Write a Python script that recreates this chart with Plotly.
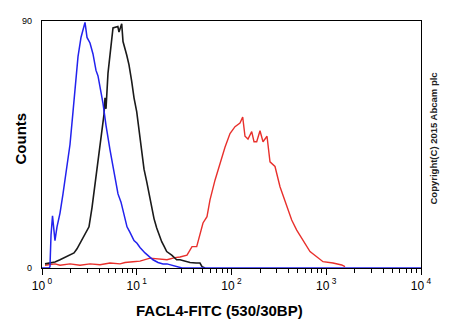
import plotly.graph_objects as go

# Blue histogram (isotype / unstained)
blue_x = [1.0, 1.185, 1.214, 1.245, 1.291, 1.339, 1.371, 1.440, 1.549, 1.666, 1.823, 1.975,
          2.125, 2.285, 2.399, 2.580, 2.709, 2.844, 2.986, 3.211, 3.453, 3.715, 3.900, 4.095,
          4.404, 4.737, 4.973, 5.221, 5.615, 6.039, 6.340, 6.822, 7.161, 7.890, 8.486, 9.355,
          10.06, 10.82, 12.22, 13.80, 14.85, 16.76, 18.93, 20.86, 23.55, 26.60, 30.03, 10000]
blue_y = [0, 0, 0.5, 12, 19, 14, 10, 15, 20, 27, 37, 45,
          57, 70, 77, 84, 87, 89.5, 84, 82, 78, 72, 70, 66,
          60, 52, 47, 43, 37, 31, 27, 24, 21, 15, 13, 10,
          9, 7.5, 5.5, 4, 3, 2, 1.5, 1.5, 1, 0.5, 0, 0]

# Black histogram
black_x = [1.076, 1.214, 1.371, 1.549, 1.749, 1.975, 2.177, 2.341, 2.518, 2.709, 2.913, 3.133,
           3.371, 3.626, 3.900, 4.095, 4.297, 4.512, 4.623, 4.737, 4.973, 5.221, 5.615, 6.317,
           6.497, 6.939, 7.161, 7.834, 8.283, 8.845, 9.355, 9.988, 10.56, 11.28, 11.93, 12.74,
           13.47, 14.38, 15.21, 16.24, 17.17, 18.34, 19.40, 20.71, 23.38, 26.40, 28.61, 32.30,
           36.48, 42.21, 46.51, 48.84, 52.53]
black_y = [1.5, 1.8, 2.2, 3, 3.8, 4.7, 5.5, 7, 9, 11, 13, 15,
           22, 31, 40, 44, 50, 56, 62, 58, 71, 78, 87.5, 88,
           86, 89, 82.5, 77.6, 74, 68, 62, 57, 50, 41, 36, 31.5,
           27, 22, 18, 14.6, 12, 9.6, 8, 6, 4.7, 3, 3, 2.5,
           2, 1.8, 1.8, 0.5, 0]

# Red histogram (FACL4-FITC stained)
red_x = [1.076, 1.371, 1.549, 1.975, 2.518, 3.211, 4.095, 5.221, 6.657, 7.516, 9.130, 10.82,
         13.80, 16.76, 20.86, 25.33, 28.61, 33.91, 38.30, 42.94, 46.51, 50.03, 55.12, 59.31,
         66.97, 75.60, 85.37, 96.43, 108.9, 122.9, 131.3, 138.8, 149.3, 163.4, 172.8, 184.5,
         199.9, 215.0, 237.0, 254.9, 287.8, 325.0, 382.4, 431.9, 487.7, 568.3, 673.9, 792.8,
         924.4, 1178, 1456, 1578]
red_y = [1, 1.5, 1, 1.5, 1, 1.5, 1.2, 1.8, 1.5, 2, 2.3, 2.5,
         3.6, 3.2, 3, 3.8, 4, 4.7, 7.8, 7.8, 12.6, 16.4, 18.7, 24.8,
         32, 38, 44, 49, 51.5, 52.8, 55, 48, 47, 49.7, 46, 46,
         50, 46, 48, 38.7, 37, 29.6, 22.3, 17.5, 13.8, 10, 6, 4.1,
         2.3, 1.8, 1.1, 0.5]

major_ticks = [1, 10, 100, 1000, 10000]
major_labels = ["10<sup> 0</sup>", "10<sup> 1</sup>", "10<sup> 2</sup>", "10<sup> 3</sup>", "10<sup> 4</sup>"]
minor_ticks = [m * d for d in [1, 10, 100, 1000] for m in range(2, 10)]
y_ticks = [0, 90]

FONT = "Arial, Liberation Sans, sans-serif"

fig = go.Figure()
fig.add_trace(go.Scatter(x=red_x, y=red_y, mode="lines", line=dict(color="#e8302c", width=1.4)))
fig.add_trace(go.Scatter(x=black_x, y=black_y, mode="lines", line=dict(color="#1a1a1a", width=1.6)))
fig.add_trace(go.Scatter(x=blue_x, y=blue_y, mode="lines", line=dict(color="#2222ee", width=1.5)))

fig.update_layout(
    width=450, height=330,
    margin=dict(l=42, r=29, t=21, b=62),
    paper_bgcolor="white", plot_bgcolor="white",
    showlegend=False,
    font=dict(family=FONT, color="black"),
    xaxis=dict(
        type="log", range=[0, 4], automargin=False,
        tickmode="array", tickvals=major_ticks, ticktext=major_labels,
        ticks="outside", ticklen=6, tickwidth=1, tickcolor="black",
        tickfont=dict(size=12, family=FONT),
        minor=dict(tickmode="array", tickvals=minor_ticks, ticks="outside", ticklen=4,
                   tickwidth=1, tickcolor="black", showgrid=False),
        showgrid=False, zeroline=False,
        showline=True, linecolor="black", linewidth=1.2, mirror=True,
    ),
    yaxis=dict(
        range=[0, 90], automargin=False,
        tickmode="array", tickvals=y_ticks, ticktext=["0", "90"],
        ticks="", ticklabelstandoff=7,
        tickfont=dict(size=9, family=FONT),
        showgrid=False, zeroline=False,
        showline=True, linecolor="black", linewidth=1.2, mirror=True,
    ),
    annotations=[
        dict(text="<b>FACL4-FITC (530/30BP)</b>", xref="paper", yref="paper", x=0.5, y=0,
             yshift=-42, xshift=-12, xanchor="center", yanchor="middle", showarrow=False,
             font=dict(size=15, family=FONT)),
        dict(text="<b>Counts</b>", textangle=-90, xref="paper", yref="paper", x=0, y=0.5,
             xshift=-22, yshift=6, xanchor="center", yanchor="middle", showarrow=False,
             font=dict(size=15, family=FONT)),
        dict(text="<b>Copyright(C) 2015 Abcam plc</b>", textangle=-90,
             xref="paper", yref="paper", x=1.0, y=0.5, xshift=12, yshift=6,
             xanchor="center", yanchor="middle", showarrow=False,
             font=dict(size=9.5, family=FONT, color="#222")),
    ],
)

fig.write_html("out.html")
